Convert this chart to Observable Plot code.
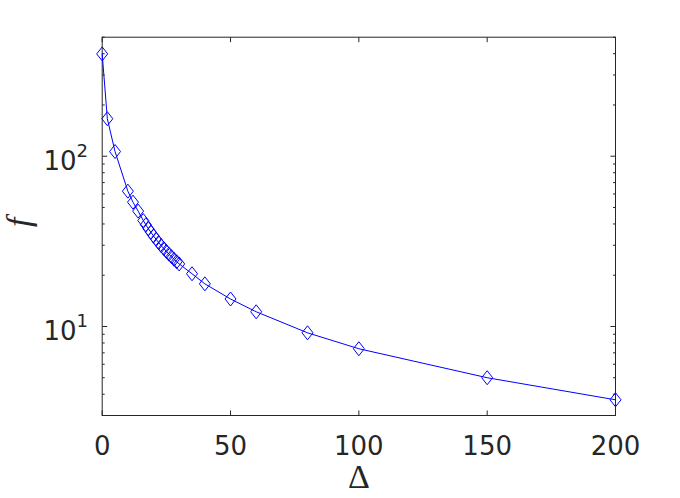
<!DOCTYPE html>
<html>
<head>
<meta charset="utf-8">
<script src="https://cdn.jsdelivr.net/npm/d3@7"></script>
<script src="https://cdn.jsdelivr.net/npm/@observablehq/plot@0.6"></script>
<style>
  html, body { margin: 0; padding: 0; background: #fff; }
</style>
</head>
<body>
<div id="chart"></div>
<script>
// Data
const delta = [0, 2, 5, 10, 12, 14, 16, 17, 18, 19, 20, 21, 22, 23, 24, 25, 26, 27, 28, 29, 30, 35, 40, 50, 60, 80, 100, 150, 200];
const fValues = [399, 166, 106.5, 62.3, 53.7, 47.6, 41.9, 39.6, 37.5, 35.7, 34.0, 32.5, 31.1, 29.8, 28.7, 27.6, 26.6, 25.7, 24.8, 24.0, 23.3, 20.4, 17.8, 14.5, 12.2, 9.18, 7.40, 5.0, 3.71];

const xTicks = [0, 50, 100, 150, 200];
const xTickLabels = ["0", "50", "100", "150", "200"];
const yMajorTicks = [10, 100];
const yTickBase = ["10", "10"];
const yTickExp = ["1", "2"];
const yMinorTicks = [3, 4, 5, 6, 7, 8, 9, 20, 30, 40, 50, 60, 70, 80, 90, 200, 300, 400, 500];
const xLabel = ["Δ"];
const yLabel = ["f"];

const axisColor = "#262626";
const lineColor = "#0000ff";

const points = delta.map((d, i) => ({delta: d, f: fValues[i]}));

// custom symbols
const diamond = {draw(ctx) { ctx.moveTo(0, -7); ctx.lineTo(5.5, 0); ctx.lineTo(0, 7); ctx.lineTo(-5.5, 0); ctx.closePath(); }};
const tickUp = (len) => ({draw(ctx) { ctx.moveTo(0, 0); ctx.lineTo(0, -len); }});
const tickDown = (len) => ({draw(ctx) { ctx.moveTo(0, 0); ctx.lineTo(0, len); }});
const tickRight = (len) => ({draw(ctx) { ctx.moveTo(0, 0); ctx.lineTo(len, 0); }});
const tickLeft = (len) => ({draw(ctx) { ctx.moveTo(0, 0); ctx.lineTo(-len, 0); }});

const tickFont = "DejaVu Sans, sans-serif";
const fs = 26;

const chart = Plot.plot({
  width: 680,
  height: 498,
  marginLeft: 101.7,
  marginRight: 65,
  marginTop: 36.7,
  marginBottom: 83,
  x: {domain: [0, 200], axis: null},
  y: {type: "log", domain: [3, 500], axis: null},
  style: {background: "white", overflow: "visible"},
  marks: [
    // ticks (inward), bottom & top
    Plot.dot(xTicks, {x: d => d, y: 3, symbol: tickUp(5), stroke: axisColor, fill: "none", strokeWidth: 1}),
    Plot.dot(xTicks, {x: d => d, y: 500, symbol: tickDown(5), stroke: axisColor, fill: "none", strokeWidth: 1}),
    // y major ticks left & right
    Plot.dot(yMajorTicks, {x: 0, y: d => d, symbol: tickRight(5), stroke: axisColor, fill: "none", strokeWidth: 1}),
    Plot.dot(yMajorTicks, {x: 200, y: d => d, symbol: tickLeft(5), stroke: axisColor, fill: "none", strokeWidth: 1}),
    // y minor ticks
    Plot.dot(yMinorTicks, {x: 0, y: d => d, symbol: tickRight(2.5), stroke: axisColor, fill: "none", strokeWidth: 1}),
    Plot.dot(yMinorTicks, {x: 200, y: d => d, symbol: tickLeft(2.5), stroke: axisColor, fill: "none", strokeWidth: 1}),
    Plot.frame({stroke: axisColor, strokeWidth: 1}),
    // data
    Plot.line(points, {x: "delta", y: "f", stroke: lineColor, strokeWidth: 1}),
    Plot.dot(points, {x: "delta", y: "f", symbol: diamond, stroke: lineColor, fill: "none", strokeWidth: 1}),
    // x tick labels
    Plot.text(xTicks, {x: d => d, y: 3, text: (d, i) => xTickLabels[i], dy: 39.4, lineAnchor: "bottom", textAnchor: "middle", fontSize: fs, fill: axisColor, fontFamily: tickFont}),
    // y tick labels: base + exponent
    Plot.text(yMajorTicks, {x: 0, y: d => d, text: (d, i) => yTickBase[i], dx: -25.7, dy: 13.6, lineAnchor: "bottom", textAnchor: "end", fontSize: fs, fill: axisColor, fontFamily: tickFont}),
    Plot.text(yMajorTicks, {x: 0, y: d => d, text: (d, i) => yTickExp[i], dx: -25.7, dy: 0.5, lineAnchor: "bottom", textAnchor: "start", fontSize: 18, fill: axisColor, fontFamily: tickFont}),
    // axis labels
    Plot.text(xLabel, {frameAnchor: "bottom", text: d => d, dy: 72, lineAnchor: "bottom", textAnchor: "middle", fontSize: 34, fill: axisColor, fontFamily: "Liberation Serif, serif"}),
    Plot.text(yLabel, {frameAnchor: "left", text: d => d, dx: -72, dy: -4, rotate: -90, lineAnchor: "bottom", textAnchor: "middle", fontSize: 34, fontStyle: "italic", fill: axisColor, fontFamily: "Liberation Serif, serif"})
  ]
});

document.getElementById("chart").appendChild(chart);
</script>
</body>
</html>
